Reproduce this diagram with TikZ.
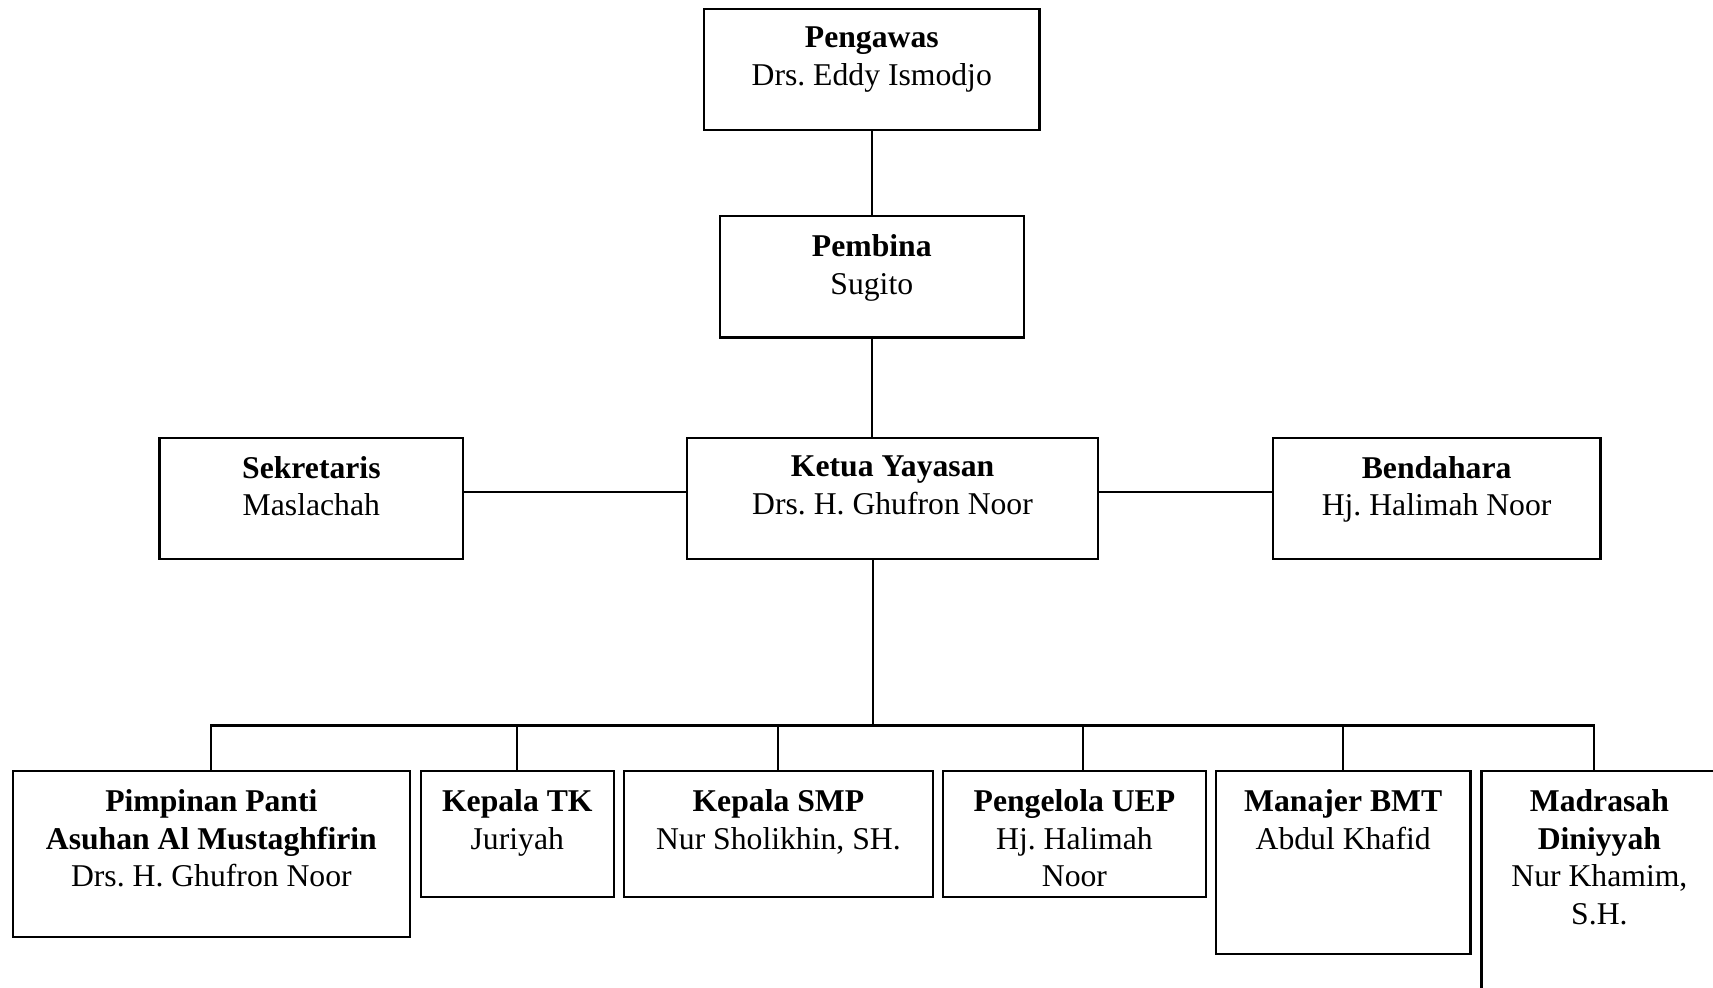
\documentclass[tikz,border=0pt]{standalone}
\usepackage{fontspec}
\setmainfont{Liberation Serif}
\usetikzlibrary{positioning}
\frenchspacing

\begin{document}
\begin{tikzpicture}[
    x=0.5pt, y=-0.5pt,
    box/.style={rectangle, draw, line width=1pt, minimum height=55.5pt, inner sep=0pt, anchor=north},
    boxtext/.style={anchor=north, align=center, inner sep=0pt, yshift=-8.6pt, font=\fontsize{14.5}{17.25}\selectfont},
    link/.style={line width=1pt}
]
\clip (0,0) rectangle (1568,904);

% 1. Top levels
\node[box, minimum width=153.5pt, label={[boxtext]north:{\textbf{Pengawas}\\Drs. Eddy Ismodjo}}] (pengawas) at (798,7) {};
\node[box, minimum width=139pt, label={[boxtext]north:{\textbf{Pembina}\\Sugito}}] (pembina) at (798,197) {};

% 2. Chair row
\node[box, minimum width=188pt, label={[boxtext]north:{\textbf{Ketua Yayasan}\\Drs. H. Ghufron Noor}}] (ketua) at (817,400) {};
\node[box, minimum width=139pt, label={[boxtext]north:{\textbf{Sekretaris}\\Maslachah}}] (sekretaris) at (285,400) {};
\node[box, minimum width=150pt, label={[boxtext]north:{\textbf{Bendahara}\\Hj. Halimah Noor}}] (bendahara) at (1315,400) {};

% 3. Units
\node[box, minimum width=181.5pt, minimum height=76pt, label={[boxtext]north:{\textbf{Pimpinan Panti}\\\textbf{Asuhan Al Mustaghfirin}\\Drs. H. Ghufron Noor}}] (pimpinan) at (193.5,705) {};
\node[box, minimum width=88.5pt, minimum height=57.5pt, label={[boxtext]north:{\textbf{Kepala TK}\\Juriyah}}] (tk) at (473.5,705) {};
\node[box, minimum width=141.5pt, minimum height=57.5pt, label={[boxtext]north:{\textbf{Kepala SMP}\\Nur Sholikhin, SH.}}] (smp) at (712.5,705) {};
\node[box, minimum width=120.5pt, minimum height=57.5pt, label={[boxtext]north:{\textbf{Pengelola UEP}\\Hj. Halimah\\Noor}}] (uep) at (983.5,705) {};
\node[box, minimum width=116.5pt, minimum height=83.5pt, label={[boxtext]north:{\textbf{Manajer BMT}\\Abdul Khafid}}] (bmt) at (1229.5,705) {};
\node[box, minimum width=108pt, minimum height=115pt, label={[boxtext]north:{\textbf{Madrasah}\\\textbf{Diniyyah}\\Nur Khamim,\\S.H.}}] (madrasah) at (1464,705) {};

% 4. Connections
\draw[link] (pengawas.south) -- (pembina.north);
\draw[link] (pembina.south) -- (pembina.south |- ketua.north);
\draw[link] ([yshift=3pt]sekretaris.east) -- ([yshift=3pt]sekretaris.east -| ketua.west);
\draw[link] ([yshift=3pt]bendahara.west) -- ([yshift=3pt]bendahara.west -| ketua.east);

\coordinate (hub) at (799,664);
\draw[link] (hub |- ketua.south) -- (hub);
\draw[link] (pimpinan.north) |- ([xshift=-2.5pt]madrasah.north |- hub) -- ([xshift=-2.5pt]madrasah.north);
\foreach \n in {tk, smp, bmt}
    \draw[link] (\n.north) -- (\n.north |- hub);
\draw[link] ([xshift=4pt]uep.north) -- ([xshift=4pt]uep.north |- hub);

\end{tikzpicture}
\end{document}
